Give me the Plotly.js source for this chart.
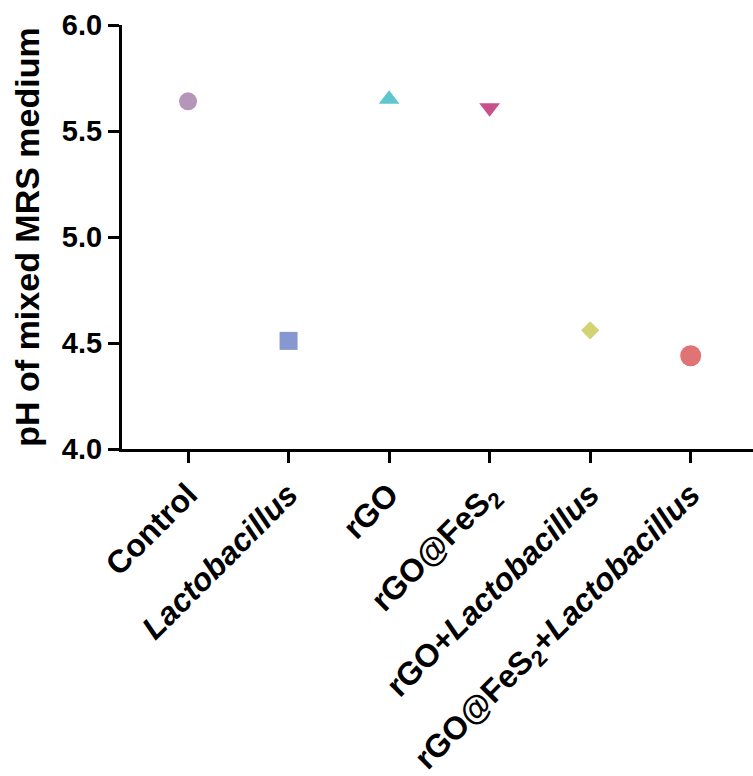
<!DOCTYPE html>
<html>
<head>
<meta charset="utf-8">
<script src="https://cdn.plot.ly/plotly-3.0.1.min.js"></script>
<style>
  html, body { margin: 0; padding: 0; background: #fff; }
  #chart { width: 753px; height: 776px; }
</style>
</head>
<body>
<div id="chart"></div>
<script>
// Groups along the x axis (HTML tick text: italics and subscripts)
const groups = [
  "Control",
  "<i>Lactobacillus</i>",
  "rGO",
  "rGO@FeS<sub>2</sub>",
  "rGO+<i>Lactobacillus</i>",
  "rGO@FeS<sub>2</sub>+<i>Lactobacillus</i>"
];
// Measured pH of the mixed MRS medium for each group
const phValues = [5.64, 4.51, 5.65, 5.61, 4.56, 4.44];
const markerSymbols = ["circle", "square", "triangle-up", "triangle-down", "diamond", "circle"];
const markerColors = ["#b596b9", "#8698cf", "#5ec6cd", "#c9518b", "#d2d373", "#e07373"];
const markerSizes = [18, 18, 18, 18, 14, 21];

const yTicks = [4.0, 4.5, 5.0, 5.5, 6.0];
const yTickText = ["4.0", "4.5", "5.0", "5.5", "6.0"];

const FONT = "Liberation Sans, Arial, sans-serif";
const xIdx = groups.map((_, i) => i);

const traces = groups.map((g, i) => ({
  type: "scatter",
  mode: "markers",
  x: [xIdx[i]],
  y: [phValues[i]],
  marker: { symbol: markerSymbols[i], color: markerColors[i], size: markerSizes[i], line: { width: 0 } },
  showlegend: false,
  hoverinfo: "y"
}));

const axisCommon = {
  showgrid: false,
  zeroline: false,
  showline: true,
  linecolor: "#000",
  linewidth: 3,
  ticks: "outside",
  ticklen: 11,
  tickwidth: 3,
  tickcolor: "#000"
};

const layout = {
  width: 753,
  height: 776,
  margin: { l: 122, r: 0, t: 25, b: 327 },
  paper_bgcolor: "#fff",
  plot_bgcolor: "#fff",
  font: { family: FONT, color: "#000" },
  xaxis: Object.assign({}, axisCommon, {
    range: [-0.657, 5.62],
    tickmode: "array",
    tickvals: xIdx,
    ticktext: groups,
    tickangle: -45,
    tickfont: { size: 32, family: FONT, weight: "bold", color: "#000" }
  }),
  yaxis: Object.assign({}, axisCommon, {
    range: [4.0, 6.0],
    tickmode: "array",
    tickvals: yTicks,
    ticktext: yTickText,
    tickfont: { size: 29, family: FONT, weight: "bold", color: "#000" },
    title: { text: "pH of mixed MRS medium", font: { size: 34, family: FONT, weight: "bold", color: "#000" }, standoff: 12 }
  })
};

Plotly.newPlot("chart", traces, layout, { displayModeBar: false, staticPlot: true });
</script>
</body>
</html>
